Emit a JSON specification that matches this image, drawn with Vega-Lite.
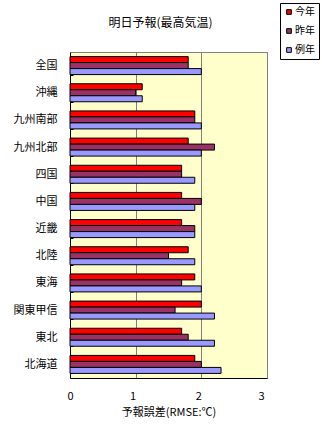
{
  "$schema": "https://vega.github.io/schema/vega-lite/v6.json",
  "width": 197,
  "height": 326,
  "autosize": {"type": "none"},
  "padding": {"left": 70, "top": 52, "right": 55, "bottom": 56},
  "background": "white",
  "title": {"text": "明日予報(最高気温)", "anchor": "middle", "frame": "group", "dx": -8, "offset": -27, "font": "Noto Sans CJK JP", "fontSize": 12, "fontWeight": "normal", "color": "black"},
  "data": {"values": [
    {"region": "全国", "series": "今年", "value": 1.8},
    {"region": "全国", "series": "昨年", "value": 1.8},
    {"region": "全国", "series": "例年", "value": 2.0},
    {"region": "沖縄", "series": "今年", "value": 1.1},
    {"region": "沖縄", "series": "昨年", "value": 1.0},
    {"region": "沖縄", "series": "例年", "value": 1.1},
    {"region": "九州南部", "series": "今年", "value": 1.9},
    {"region": "九州南部", "series": "昨年", "value": 1.9},
    {"region": "九州南部", "series": "例年", "value": 2.0},
    {"region": "九州北部", "series": "今年", "value": 1.8},
    {"region": "九州北部", "series": "昨年", "value": 2.2},
    {"region": "九州北部", "series": "例年", "value": 2.0},
    {"region": "四国", "series": "今年", "value": 1.7},
    {"region": "四国", "series": "昨年", "value": 1.7},
    {"region": "四国", "series": "例年", "value": 1.9},
    {"region": "中国", "series": "今年", "value": 1.7},
    {"region": "中国", "series": "昨年", "value": 2.0},
    {"region": "中国", "series": "例年", "value": 1.9},
    {"region": "近畿", "series": "今年", "value": 1.7},
    {"region": "近畿", "series": "昨年", "value": 1.9},
    {"region": "近畿", "series": "例年", "value": 1.9},
    {"region": "北陸", "series": "今年", "value": 1.8},
    {"region": "北陸", "series": "昨年", "value": 1.5},
    {"region": "北陸", "series": "例年", "value": 1.9},
    {"region": "東海", "series": "今年", "value": 1.9},
    {"region": "東海", "series": "昨年", "value": 1.7},
    {"region": "東海", "series": "例年", "value": 2.0},
    {"region": "関東甲信", "series": "今年", "value": 2.0},
    {"region": "関東甲信", "series": "昨年", "value": 1.6},
    {"region": "関東甲信", "series": "例年", "value": 2.2},
    {"region": "東北", "series": "今年", "value": 1.7},
    {"region": "東北", "series": "昨年", "value": 1.8},
    {"region": "東北", "series": "例年", "value": 2.2},
    {"region": "北海道", "series": "今年", "value": 1.9},
    {"region": "北海道", "series": "昨年", "value": 2.0},
    {"region": "北海道", "series": "例年", "value": 2.3}
  ]},
  "mark": {"type": "bar", "stroke": "black", "strokeWidth": 1},
  "encoding": {
    "y": {
      "field": "region", "type": "nominal",
      "sort": ["全国", "沖縄", "九州南部", "九州北部", "四国", "中国", "近畿", "北陸", "東海", "関東甲信", "東北", "北海道"],
      "scale": {"paddingInner": 0.3375, "paddingOuter": 0.169},
      "axis": {"title": null, "domainColor": "black", "domainWidth": 1, "tickBand": "extent", "tickColor": "black", "tickSize": -3, "labelPadding": 16, "labelFont": "Noto Sans CJK JP", "labelFontSize": 11, "labelColor": "black", "grid": false}
    },
    "yOffset": {"field": "series", "type": "nominal", "sort": ["今年", "昨年", "例年"], "scale": {"paddingInner": 0, "paddingOuter": 0}},
    "x": {
      "field": "value", "type": "quantitative",
      "scale": {"domain": [0, 3], "nice": false},
      "axis": {"values": [0, 1, 2, 3], "format": "d", "title": "予報誤差(RMSE:℃)", "grid": true, "gridColor": "#808080", "gridWidth": 1, "domainColor": "black", "ticks": false, "labelPadding": 12, "labelOffset": -3, "labelFont": "Noto Sans CJK JP", "labelFontSize": 11, "labelColor": "black", "titleFont": "Noto Sans CJK JP", "titleFontSize": 11, "titleFontWeight": "normal", "titleColor": "black", "titlePadding": 5}
    },
    "color": {
      "field": "series", "type": "nominal",
      "scale": {"domain": ["今年", "昨年", "例年"], "range": ["#FF0000", "#993366", "#9999FF"]},
      "legend": {"orient": "none", "legendX": 210, "legendY": -49, "title": null, "strokeColor": "black", "fillColor": "white", "padding": 4, "symbolType": "square", "symbolSize": 22, "symbolStrokeColor": "black", "symbolStrokeWidth": 1, "labelFont": "Noto Sans CJK JP", "labelFontSize": 10, "labelColor": "black", "rowPadding": 9, "labelOffset": 1}
    }
  },
  "config": {"view": {"stroke": "#808080", "fill": "#FFFFCC"}}
}
